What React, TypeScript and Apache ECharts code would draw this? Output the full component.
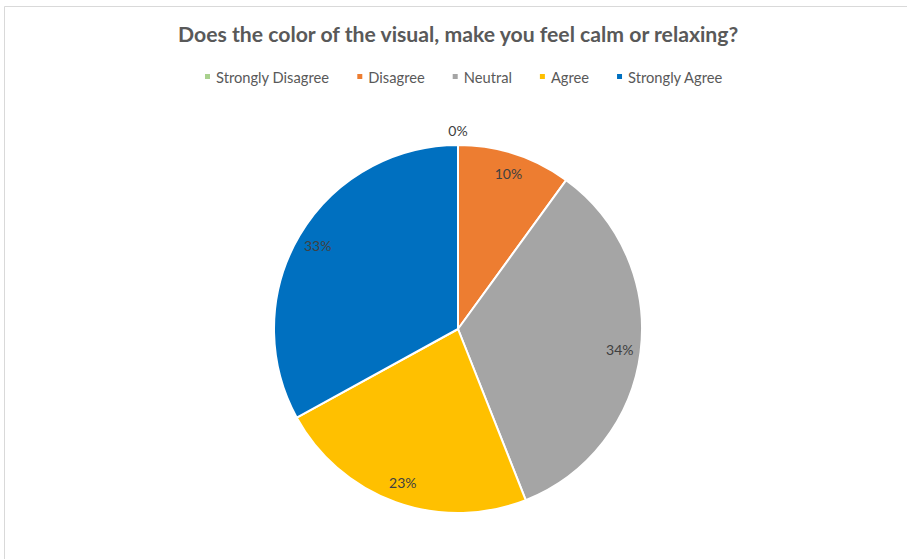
import React, { useEffect, useRef } from 'react';
import * as echarts from 'echarts';

const categories = ['Strongly Disagree', 'Disagree', 'Neutral', 'Agree', 'Strongly Agree'];
const values = [0, 10, 34, 23, 33];
const colors = ['#A9D18E', '#ED7D31', '#A5A5A5', '#FFC000', '#0070C0'];
const chartTitle = 'Does the color of the visual, make you feel calm or relaxing?';

export default function App() {
  const ref = useRef<HTMLDivElement>(null);
  useEffect(() => {
    const chart = echarts.init(ref.current as HTMLDivElement, null, { renderer: 'svg' });
    const R = 184;
    const C = [458, 329];
    const font = 'Lato, "Open Sans", sans-serif';
    const pieData = categories.map((name, i) => ({ name, value: values[i] }));
    const labelData = categories.map((name, i) =>
      values[i] === 0
        ? {
            name,
            value: values[i],
            label: { position: 'outside', distanceToLabelLine: 0 },
            labelLine: { show: false, length: 15, length2: 0 },
          }
        : { name, value: values[i] }
    );
    chart.setOption({
      animation: false,
      backgroundColor: '#ffffff',
      color: colors,
      title: {
        text: chartTitle,
        left: 173,
        top: 18,
        textStyle: { fontFamily: font, fontWeight: 'bold', fontSize: 21.2, color: '#595959' },
      },
      legend: {
        data: categories,
        left: 198,
        top: 64,
        icon: 'rect',
        itemWidth: 7,
        itemHeight: 7,
        itemGap: 26,
        textStyle: { fontFamily: font, fontSize: 14.7, color: '#595959' },
      },
      graphic: [
        {
          type: 'rect',
          silent: true,
          z: -10,
          shape: { x: 4.5, y: 6.5, width: 1200, height: 1200 },
          style: { fill: 'none', stroke: '#D9D9D9', lineWidth: 1 },
        },
      ],
      series: [
        {
          type: 'pie',
          radius: R,
          center: C,
          startAngle: 90,
          clockwise: true,
          silent: true,
          data: pieData,
          label: { show: false },
          labelLine: { show: false },
          itemStyle: { borderColor: '#ffffff', borderWidth: 2 },
        },
        {
          type: 'pie',
          radius: [R * 0.74, R],
          center: C,
          startAngle: 90,
          clockwise: true,
          silent: true,
          data: labelData,
          itemStyle: { color: 'rgba(0,0,0,0)', borderWidth: 0 },
          label: {
            show: true,
            position: 'inside',
            formatter: '{d}%',
            fontFamily: font,
            fontSize: 14,
            color: '#404040',
          },
          labelLine: { show: false },
          labelLayout: (p: any) => (p.dataIndex === 0 ? { align: 'center' } : {}),
        },
      ],
    });
    return () => chart.dispose();
  }, []);
  return (
    <div
      ref={ref}
      style={{ position: 'fixed', left: 0, top: 0, width: 907, height: 559 }}
    />
  );
}
